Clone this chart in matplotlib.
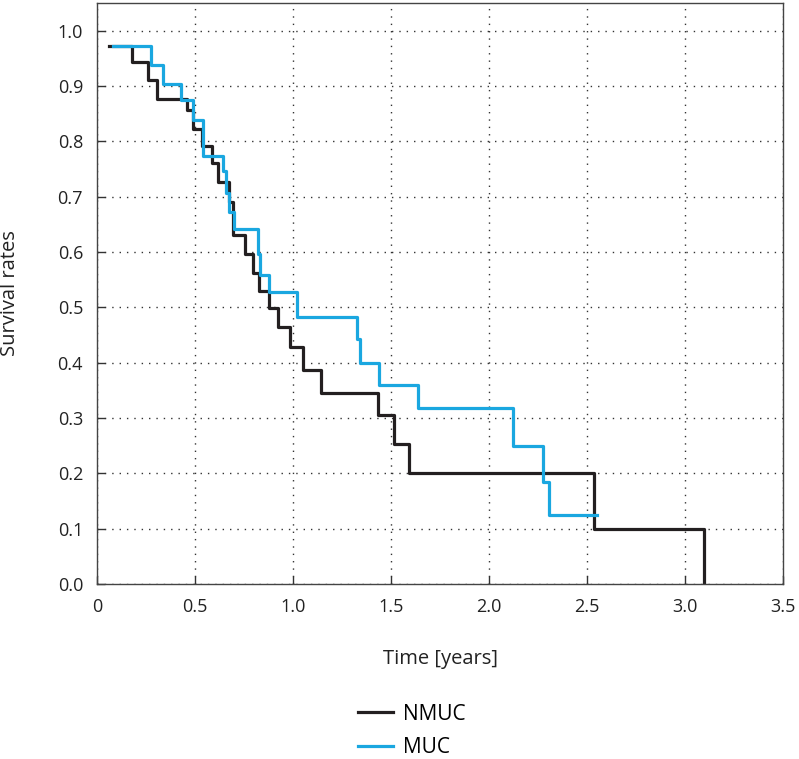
import numpy as np
import matplotlib
matplotlib.use("Agg")
import matplotlib.pyplot as plt

plt.rcParams['font.family'] = ['Open Sans', 'DejaVu Sans']

# Kaplan-Meier steps: time of event, survival after it
nmuc_t = [0.06, 0.177, 0.259, 0.305, 0.457, 0.49, 0.535, 0.585, 0.617, 0.675,
          0.692, 0.755, 0.798, 0.828, 0.879, 0.925, 0.985, 1.049, 1.141, 1.435,
          1.517, 1.592, 2.537, 3.099]
nmuc_s = [0.972, 0.944, 0.910, 0.877, 0.856, 0.822, 0.791, 0.761, 0.727, 0.69,
          0.631, 0.597, 0.562, 0.529, 0.499, 0.465, 0.428, 0.387, 0.345, 0.306,
          0.253, 0.201, 0.100, 0.0]

muc_t = [0.08, 0.276, 0.338, 0.429, 0.49, 0.54, 0.645, 0.657, 0.675, 0.701,
         0.82, 0.832, 0.879, 1.022, 1.328, 1.342, 1.437, 1.639, 2.121, 2.274,
         2.306, 2.549]
muc_s = [0.972, 0.938, 0.904, 0.875, 0.839, 0.774, 0.746, 0.707, 0.673, 0.641,
         0.597, 0.559, 0.527, 0.483, 0.443, 0.400, 0.360, 0.318, 0.250, 0.184,
         0.125, 0.125]

x_ticks = [0, 0.5, 1.0, 1.5, 2.0, 2.5, 3.0, 3.5]
x_labels = ['0', '0.5', '1.0', '1.5', '2.0', '2.5', '3.0', '3.5']
y_ticks = [0.0, 0.1, 0.2, 0.3, 0.4, 0.5, 0.6, 0.7, 0.8, 0.9, 1.0]

black = '#231f20'
blue = '#1aa7e0'

fig = plt.figure(figsize=(7.99, 7.59), dpi=100)
ax = fig.add_axes([0.1214, 0.2306, 0.8586, 0.7654])

ax.step(nmuc_t, nmuc_s, where='post', color=black, lw=2.3, label='NMUC')
ax.step(muc_t, muc_s, where='post', color=blue, lw=2.3, label='MUC')

ax.set_xlim(0, 3.5)
ax.set_ylim(0, 1.05)
ax.set_xticks(x_ticks)
ax.set_xticklabels(x_labels)
ax.set_yticks(y_ticks)
ax.set_yticklabels([f'{v:.1f}' for v in y_ticks])
ax.tick_params(direction='in', length=6, width=1, colors='#333333',
               labelsize=13, pad=10, labelcolor='#222222')
ax.grid(True, color='#333333', linestyle=(0, (1, 4.3)), linewidth=1.0)
for sp in ax.spines.values():
    sp.set_color('#444444')
    sp.set_linewidth(1.0)

ax.set_xlabel('Time [years]', fontsize=14.5, color='#222222', labelpad=24)
ax.set_ylabel('Survival rates', fontsize=14.5, color='#222222', labelpad=27)

fig.legend(loc='center', bbox_to_anchor=(0.515, 0.037), frameon=False,
           fontsize=15, handlelength=1.7, handletextpad=0.45,
           labelspacing=0.6, bbox_transform=fig.transFigure)

fig.savefig('out.png', dpi=100)
